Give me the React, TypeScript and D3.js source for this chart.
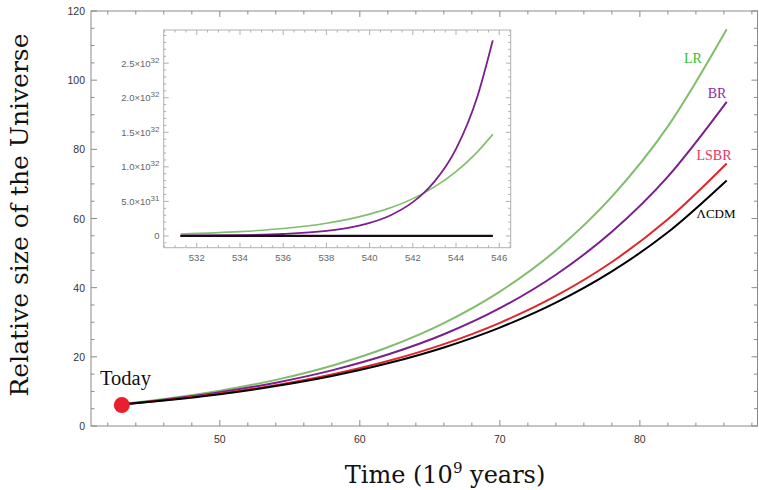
import React from "react";
import * as d3 from "d3";

const times = [43, 46, 50, 54, 58, 62, 66, 70, 74, 78, 82, 86.2];
const lcdm = [6.2, 7.34, 9.2, 11.54, 14.46, 18.12, 22.71, 28.46, 35.66, 44.7, 56.02, 71.0];
const lsbr = [6.25, 7.44, 9.37, 11.82, 14.9, 18.78, 23.67, 29.84, 37.62, 47.42, 59.78, 75.9];
const br = [6.3, 7.6, 9.76, 12.53, 16.09, 20.66, 26.52, 34.06, 43.73, 56.16, 72.11, 93.7];
const lr = [6.4, 7.82, 10.22, 13.34, 17.43, 22.77, 29.75, 38.86, 50.76, 66.31, 86.62, 114.7];

const insetTimes = [531.25, 534, 536, 538, 539, 540, 541, 542, 542.5, 543, 544, 545, 545.7];
const insetLR = [0.029, 0.062, 0.107, 0.184, 0.24, 0.316, 0.41, 0.54, 0.62, 0.71, 0.93, 1.22, 1.47];
const insetBR = [0.003, 0.011, 0.028, 0.073, 0.118, 0.189, 0.304, 0.489, 0.62, 0.786, 1.26, 2.03, 2.83];
const insetFlat = [0, 0, 0, 0, 0, 0, 0, 0, 0, 0, 0, 0, 0];

const xTicksMain = [50, 60, 70, 80];
const yTicksMain = [0, 20, 40, 60, 80, 100, 120];
const xTicksInset = [532, 534, 536, 538, 540, 542, 544, 546];
const yTicksInset: [number, string, string][] = [
  [0, "0", ""],
  [0.5, "5.0\u00d710", "31"],
  [1.0, "1.0\u00d710", "32"],
  [1.5, "1.5\u00d710", "32"],
  [2.0, "2.0\u00d710", "32"],
  [2.5, "2.5\u00d710", "32"],
];

const W = 759;
const H = 490;

export default function App() {
  const x = d3.scaleLinear().domain([40.8, 88.4]).range([91, 757.5]);
  const y = d3.scaleLinear().domain([0, 120]).range([426, 11]);
  const xi = d3.scaleLinear().domain([530.47, 546.53]).range([163.7, 510.7]);
  const yi = d3.scaleLinear().domain([-0.17, 2.98]).range([247.7, 30]);

  const line = (vals: number[]) =>
    d3
      .line<number>()
      .x((_, i) => x(times[i]))
      .y((v) => y(v))
      .curve(d3.curveMonotoneX)(vals) as string;
  const lineI = (vals: number[]) =>
    d3
      .line<number>()
      .x((_, i) => xi(insetTimes[i]))
      .y((v) => yi(v))
      .curve(d3.curveMonotoneX)(vals) as string;

  const [x0, x1] = x.range();
  const [y0, y1] = y.range();
  const frame = "#8a8a8a";
  const tickFont = "Liberation Sans, Arial, sans-serif";

  const xMinor = d3.range(42, 89, 2);
  const yMinor = d3.range(0, 121, 5);
  const xiMinor = d3.range(530.5, 546.6, 0.5);
  const yiMinor = d3.range(-0.1, 2.95, 0.1);

  return (
    <svg width={W} height={H} style={{ position: "absolute", left: 0, top: 0, background: "#fff" }}>
      <rect x={0} y={0} width={W} height={H} fill="#fff" />
      {/* main frame */}
      <rect x={x0} y={y1} width={x1 - x0} height={y0 - y1} fill="none" stroke={frame} strokeWidth={1} />
      {xMinor.map((t) => {
        const major = t % 10 === 0;
        const len = major ? 6 : 3.5;
        return (
          <g key={"xm" + t}>
            <line x1={x(t)} x2={x(t)} y1={y0} y2={y0 - len} stroke={frame} />
            <line x1={x(t)} x2={x(t)} y1={y1} y2={y1 + len} stroke={frame} />
          </g>
        );
      })}
      {yMinor.map((t) => {
        const major = t % 20 === 0;
        const len = major ? 6 : 3.5;
        return (
          <g key={"ym" + t}>
            <line x1={x0} x2={x0 + len} y1={y(t)} y2={y(t)} stroke={frame} />
            <line x1={x1} x2={x1 - len} y1={y(t)} y2={y(t)} stroke={frame} />
          </g>
        );
      })}
      {xTicksMain.map((t) => (
        <text key={"xt" + t} x={x(t)} y={y0 + 17} textAnchor="middle" fontSize={10.5} fontFamily={tickFont} fill="#333">
          {t}
        </text>
      ))}
      {yTicksMain.map((t) => (
        <text key={"yt" + t} x={x0 - 6} y={y(t) + 4} textAnchor="end" fontSize={10.5} fontFamily={tickFont} fill="#333">
          {t}
        </text>
      ))}

      {/* main curves */}
      <path d={line(lr)} fill="none" stroke="#80bd6c" strokeWidth={2} />
      <path d={line(br)} fill="none" stroke="#7b1f8e" strokeWidth={2} />
      <path d={line(lsbr)} fill="none" stroke="#e0262a" strokeWidth={2} />
      <path d={line(lcdm)} fill="none" stroke="#000" strokeWidth={2} />

      {/* today marker */}
      <circle cx={x(times[0])} cy={y(lcdm[0]) + 0.5} r={8} fill="#e8202e" />
      <text x={100} y={385} fontSize={20.5} fontFamily="Liberation Serif, Times New Roman, serif" fill="#111">
        Today
      </text>

      {/* curve labels */}
      <text x={693} y={63} textAnchor="middle" fontSize={14} fontFamily="Liberation Serif, serif" fill="#2ec22e">LR</text>
      <text x={717} y={98} textAnchor="middle" fontSize={14} fontFamily="Liberation Serif, serif" fill="#9b1fa3">BR</text>
      <text x={714} y={160} textAnchor="middle" fontSize={14} fontFamily="Liberation Serif, serif" fill="#e83560">LSBR</text>
      <text x={716} y={218} textAnchor="middle" fontSize={13} fontFamily="Liberation Serif, serif" fill="#000">{"\u039bCDM"}</text>

      {/* axis titles */}
      <text
        transform={`translate(28, 215) rotate(-90)`}
        textAnchor="middle"
        fontSize={25}
        fontFamily="DejaVu Serif, Liberation Serif, serif"
        fill="#111"
      >
        Relative size of the Universe
      </text>
      <text x={445} y={483} textAnchor="middle" fontSize={24} fontFamily="DejaVu Serif, Liberation Serif, serif" fill="#111">
        Time (10<tspan fontSize={15} dy={-10}>9</tspan>
        <tspan dy={10}> years)</tspan>
      </text>

      {/* inset */}
      <g>
        <rect
          x={xi.range()[0]}
          y={yi.range()[1]}
          width={xi.range()[1] - xi.range()[0]}
          height={yi.range()[0] - yi.range()[1]}
          fill="#fff"
          stroke="#b0b0b0"
          strokeWidth={1}
        />
        {xiMinor.map((t) => {
          const major = Math.abs(t % 2) < 1e-6;
          const len = major ? 5 : 2.5;
          return (
            <g key={"xim" + t}>
              <line x1={xi(t)} x2={xi(t)} y1={yi.range()[0]} y2={yi.range()[0] - len} stroke="#b0b0b0" />
              <line x1={xi(t)} x2={xi(t)} y1={yi.range()[1]} y2={yi.range()[1] + len} stroke="#b0b0b0" />
            </g>
          );
        })}
        {yiMinor.map((t) => {
          const major = Math.abs(Math.round(t * 10) % 5) === 0;
          const len = major ? 5 : 2.5;
          return (
            <g key={"yim" + t.toFixed(2)}>
              <line x1={xi.range()[0]} x2={xi.range()[0] + len} y1={yi(t)} y2={yi(t)} stroke="#b0b0b0" />
              <line x1={xi.range()[1]} x2={xi.range()[1] - len} y1={yi(t)} y2={yi(t)} stroke="#b0b0b0" />
            </g>
          );
        })}
        {xTicksInset.map((t) => (
          <text key={"xit" + t} x={xi(t)} y={yi.range()[0] + 13} textAnchor="middle" fontSize={9.5} fontFamily={tickFont} fill="#666">
            {t}
          </text>
        ))}
        {yTicksInset.map(([v, base, sup]) => (
          <text key={"yit" + v} x={159.5} y={yi(v) + 3.5} textAnchor="end" fontSize={9.5} fontFamily={tickFont} fill="#666">
            {base}
            {sup ? (
              <tspan fontSize={8} dy={-4}>
                {sup}
              </tspan>
            ) : null}
          </text>
        ))}
        <path d={lineI(insetFlat)} fill="none" stroke="#e0262a" strokeWidth={2} />
        <path d={lineI(insetLR)} fill="none" stroke="#80bd6c" strokeWidth={1.6} />
        <path d={lineI(insetBR)} fill="none" stroke="#7b1f8e" strokeWidth={1.8} />
        <path d={lineI(insetFlat)} fill="none" stroke="#1a0a14" strokeWidth={2.2} />
      </g>
    </svg>
  );
}
